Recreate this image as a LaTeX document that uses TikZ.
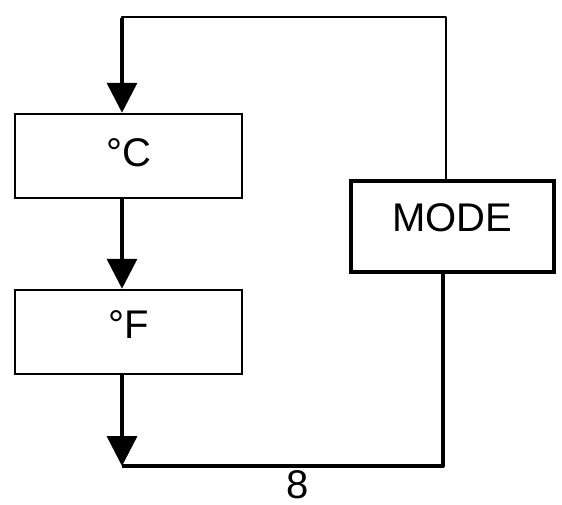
\documentclass[tikz,border=0pt]{standalone}
\usepackage{fontspec}
\setmainfont{Liberation Sans}
\usetikzlibrary{arrows.meta}
\begin{document}
\begin{tikzpicture}[x=1pt,y=-1pt,
  every node/.style={font=\fontsize{40}{48}\selectfont, inner sep=0pt},
  box/.style={draw, line width=2.5pt, minimum width=227pt, minimum height=84pt, text height=28pt},
  modebox/.style={draw, line width=4pt, minimum width=203pt, minimum height=91pt, text height=28pt, text depth=18pt},
  thinline/.style={line width=2.5pt},
  thickline/.style={line width=4pt},
  arr/.style={line width=3.5pt, -{Triangle[width=30pt,length=30pt]}}]
\useasboundingbox (0,0) rectangle (562,504);
\node[box, text depth=8pt] (c) at (128.5,156) {°C};
\node[box, text depth=16pt] (f) at (128.5,332) {°F};
\node[modebox] (mode) at (452.5,226.5) {MODE};
\coordinate (bl) at (122,466);
\coordinate (tl) at (122,17);
\coordinate (tr) at (446,17);
\coordinate (br) at (443,466);
\node (eight) at (298,485) {8};
% loop back from MODE to C
\draw[thinline, line join=round] ([xshift=-6.5pt]mode.north) -- (tr) -- (tl) -- ++(0,10);
\draw[arr] ([yshift=-1pt]tl) -- ([xshift=-6.5pt]c.north);
% C to F
\draw[arr] ([xshift=-6.5pt]c.south) -- ([xshift=-6.5pt]f.north);
% F down to bottom line
\draw[arr] ([xshift=-6.5pt]f.south) -- (bl);
% bottom line to MODE
\draw[thickline, line join=round] (bl) -- (br) -- ([xshift=-9.5pt]mode.south);
\end{tikzpicture}
\end{document}
